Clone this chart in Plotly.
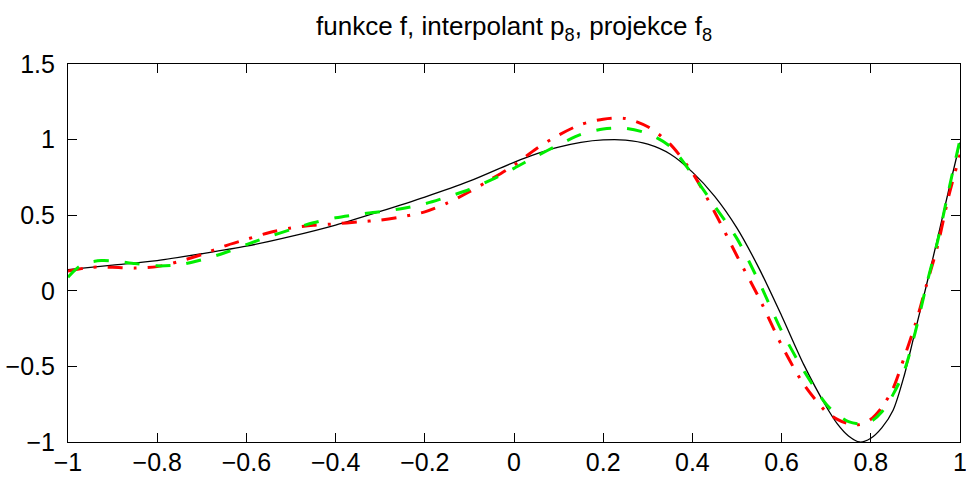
import plotly.graph_objects as go

# f (black, solid)
f_x = [-1.0, -0.9, -0.8, -0.7, -0.6, -0.5, -0.4, -0.3, -0.2, -0.1, 0.0, 0.05, 0.1, 0.15,
       0.2, 0.25, 0.3, 0.35, 0.4, 0.45, 0.5, 0.55, 0.6, 0.65, 0.7, 0.725, 0.75, 0.775,
       0.8, 0.825, 0.85, 0.875, 0.9, 0.925, 0.95, 0.975, 1.0]
f_y = [0.14, 0.17, 0.20, 0.245, 0.295, 0.36, 0.435, 0.525, 0.62, 0.725, 0.85, 0.905,
       0.95, 0.982, 0.998, 0.997, 0.97, 0.905, 0.785, 0.625, 0.415, 0.145, -0.165, -0.49,
       -0.765, -0.88, -0.96, -1.0, -0.975, -0.905, -0.79, -0.56, -0.26, 0.04, 0.35,
       0.67, 0.98]

# interpolant p8 (red, dash-dot)
p_x = [-1.0, -0.95, -0.9, -0.85, -0.8, -0.75, -0.7, -0.65, -0.6, -0.55, -0.5, -0.45,
       -0.4, -0.35, -0.3, -0.25, -0.2, -0.15, -0.1, -0.05, 0.0, 0.05, 0.1, 0.15, 0.2,
       0.25, 0.3, 0.35, 0.4, 0.45, 0.5, 0.55, 0.6, 0.65, 0.7, 0.725, 0.75, 0.775, 0.8,
       0.825, 0.85, 0.875, 0.9, 0.925, 0.95, 0.975, 1.0]
p_y = [0.13, 0.155, 0.155, 0.15, 0.16, 0.195, 0.24, 0.295, 0.34, 0.384, 0.415, 0.433,
       0.443, 0.455, 0.468, 0.49, 0.522, 0.58, 0.655, 0.74, 0.83, 0.94, 1.03, 1.10,
       1.135, 1.14, 1.085, 0.97, 0.78, 0.52, 0.23, -0.05, -0.36, -0.62, -0.80, -0.85,
       -0.88, -0.885, -0.85, -0.77, -0.645, -0.44, -0.22, 0.04, 0.30, 0.63, 0.90]

# projection f8 (green, dashed)
g_x = [-1.0, -0.975, -0.95, -0.925, -0.9, -0.85, -0.8, -0.75, -0.7, -0.65, -0.6, -0.55,
       -0.5, -0.45, -0.4, -0.35, -0.3, -0.25, -0.2, -0.15, -0.1, -0.05, 0.0, 0.05, 0.1,
       0.15, 0.2, 0.25, 0.3, 0.35, 0.4, 0.45, 0.5, 0.55, 0.6, 0.65, 0.7, 0.725, 0.75,
       0.775, 0.8, 0.825, 0.85, 0.875, 0.9, 0.925, 0.95, 0.975, 1.0]
g_y = [0.09, 0.16, 0.19, 0.20, 0.198, 0.18, 0.165, 0.172, 0.205, 0.25, 0.305, 0.358,
       0.405, 0.45, 0.483, 0.505, 0.523, 0.545, 0.575, 0.62, 0.67, 0.735, 0.81, 0.89,
       0.965, 1.035, 1.07, 1.075, 1.04, 0.955, 0.77, 0.56, 0.345, 0.055, -0.265, -0.53,
       -0.75, -0.82, -0.865, -0.88, -0.865, -0.80, -0.685, -0.53, -0.27, 0.04, 0.33,
       0.67, 1.0]

x_ticks = [-1, -0.8, -0.6, -0.4, -0.2, 0, 0.2, 0.4, 0.6, 0.8, 1]
x_labels = ["\u22121", "\u22120.8", "\u22120.6", "\u22120.4", "\u22120.2", "0",
            "0.2", "0.4", "0.6", "0.8", "1"]
y_ticks = [-1, -0.5, 0, 0.5, 1, 1.5]
y_labels = ["\u22121", "\u22120.5", "0", "0.5", "1", "1.5"]

title_text = "funkce f, interpolant p<sub>8</sub>, projekce f<sub>8</sub>"

fig = go.Figure()
fig.add_trace(go.Scatter(x=f_x, y=f_y, mode="lines",
                         line=dict(color="black", width=1.3, shape="spline", smoothing=0.8)))
fig.add_trace(go.Scatter(x=p_x, y=p_y, mode="lines",
                         line=dict(color="#ff0000", width=3, dash="15px,11px,3px,11px",
                                   shape="spline", smoothing=0.8)))
fig.add_trace(go.Scatter(x=g_x, y=g_y, mode="lines",
                         line=dict(color="#00ee00", width=3, dash="15px,16px",
                                   shape="spline", smoothing=0.8)))

axis_common = dict(showgrid=False, zeroline=False, showline=True, linecolor="black",
                   linewidth=1.2, mirror="ticks", ticks="inside", ticklen=9,
                   tickcolor="black", tickwidth=1, automargin=False,
                   ticklabeloverflow="allow",
                   tickfont=dict(family="Liberation Sans, Arial", size=25, color="black"))

fig.update_layout(
    width=966, height=477,
    margin=dict(l=68, r=6, t=64, b=35),
    paper_bgcolor="white", plot_bgcolor="white",
    showlegend=False,
    title=dict(text=title_text, x=0.5, xref="paper", xanchor="center",
               y=1 - 26 / 477, yref="container", yanchor="middle", automargin=False,
               font=dict(family="Liberation Sans, Arial", size=26, color="black")),
    xaxis=dict(range=[-1, 1], tickvals=x_ticks, ticktext=x_labels,
               ticklabelstandoff=-2, **axis_common),
    yaxis=dict(range=[-1, 1.5], tickvals=y_ticks, ticktext=y_labels,
               ticklabelstandoff=7, **axis_common),
)

fig.write_html("out.html")
